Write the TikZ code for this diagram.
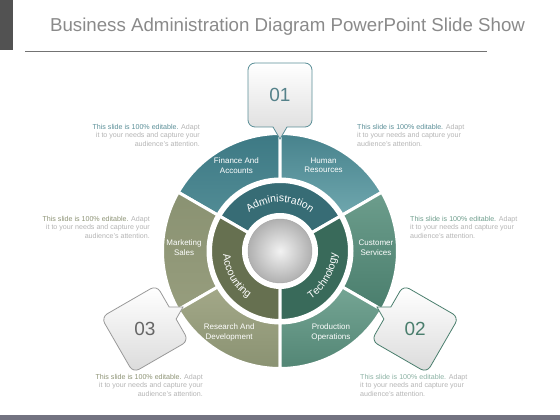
\documentclass[tikz,border=0pt]{standalone}
\usepackage{fontspec}
\setmainfont{Liberation Sans}
\usetikzlibrary{decorations.text}

\definecolor{titlegray}{HTML}{8A8A8A}
\definecolor{notegray}{HTML}{B4B4B4}
\definecolor{tealA}{HTML}{3D7984}
\definecolor{tealB}{HTML}{6FA7AE}
\definecolor{oliveA}{HTML}{8A9272}
\definecolor{oliveB}{HTML}{A3A888}
\definecolor{greenA}{HTML}{75A594}
\definecolor{greenB}{HTML}{4A7E6D}
\definecolor{tealdark}{HTML}{376C75}
\definecolor{olivedark}{HTML}{667050}
\definecolor{greendark}{HTML}{396A5A}
\definecolor{tealtext}{HTML}{5A8E97}
\definecolor{olivetext}{HTML}{8C9274}
\definecolor{greentext}{HTML}{6E9D8C}

% one piece of a ring: start, end, inner, outer, options
\newcommand{\ringpart}[5]{%
  \path[#5] (#1:#3) arc[start angle=#1, end angle=#2, radius=#3]
    -- (#2:#4) arc[start angle=#2, end angle=#1, radius=#4] -- cycle;}

% numbered box with a pointer towards the wheel: angle, rotation, edge, number, text colour
\newcommand{\numbox}[5]{%
  \begin{scope}[shift={(#1:156)}, rotate=#2]
    \path[boxshape, draw=#3]
      (-7,-32) -- (0,-44) -- (7,-32) -- (25,-32) arc[start angle=-90, end angle=0, radius=7]
      -- (32,25) arc[start angle=0, end angle=90, radius=7]
      -- (-25,32) arc[start angle=90, end angle=180, radius=7]
      -- (-32,-25) arc[start angle=180, end angle=270, radius=7] -- cycle;
  \end{scope}
  \node[numtext, text=#5] (box#4) at (#1:156) {#4};}

\newcommand{\editnote}[1]{\textcolor{#1}{This slide is 100\% editable.} Adapt\\
  it to your needs and capture your\\ audience's attention.}
\newcommand{\ringfont}{\fontsize{10.5}{10.5}\selectfont}

\tikzset{
  seg/.style={draw=white, line width=3pt},
  seglabel/.style={text=white, font=\fontsize{8}{9.5}\selectfont, align=center},
  note/.style={font=\fontsize{7.1}{8.5}\selectfont, text=notegray, inner sep=0pt},
  boxshape/.style={line width=0.8pt, top color=white, bottom color=gray!28},
  numtext/.style={font=\fontsize{19}{19}\selectfont}
}

\begin{document}
\begin{tikzpicture}[x=1pt,y=1pt]
    \useasboundingbox (0,0) rectangle (560,420);
    % header
    \fill[black!68] (0,370) rectangle (13,420);
    \draw[black!55, line width=0.7pt] (25,369) -- (487,369);
    \node[anchor=west, text=titlegray, font=\fontsize{18.7}{18.7}\selectfont] (title) at (46.5,393)
        {Business Administration Diagram PowerPoint Slide Show};
    \fill[black!45!blue!10!gray] (0,0) rectangle (560,5);

    \begin{scope}[shift={(280,169)}]
        % outer ring
        \ringpart{90}{150}{72}{117.5}{seg, top color=tealA, bottom color=tealA!60!tealB}
        \ringpart{30}{90}{72}{117.5}{seg, top color=tealA!80!tealB, bottom color=tealB}
        \ringpart{150}{210}{72}{117.5}{seg, top color=oliveA, bottom color=oliveA!50!oliveB}
        \ringpart{210}{270}{72}{117.5}{seg, top color=oliveB, bottom color=oliveA}
        \ringpart{-30}{30}{72}{117.5}{seg, top color=greenA!80!greenB, bottom color=greenB}
        \ringpart{270}{330}{72}{117.5}{seg, top color=greenA, bottom color=greenB!80!greenA}
        % middle ring
        \ringpart{30}{150}{36.5}{69.5}{seg, fill=tealdark}
        \ringpart{150}{270}{36.5}{69.5}{seg, fill=olivedark}
        \ringpart{270}{390}{36.5}{69.5}{seg, fill=greendark}
        % centre
        \path[inner color=gray!10, outer color=gray!62] (0,0) circle[radius=32];
        \draw[gray!70, line width=0.4pt] (0,0) circle[radius=32];
        % curved ring labels
        \path[decorate, decoration={text along path, text align=center, text color=white,
            text={|\ringfont|Administration}}]
            (150:49) arc[start angle=150, end angle=30, radius=49];
        \path[decorate, decoration={text along path, text align=center, text color=white,
            text={|\ringfont|Accounting}}]
            (150:57) arc[start angle=150, end angle=270, radius=57];
        \path[decorate, decoration={text along path, text align=center, text color=white,
            text={|\ringfont|Technology}}]
            (270:57) arc[start angle=270, end angle=390, radius=57];
        % segment labels
        \node[seglabel] (finance)    at (117:96) {Finance And\\Accounts};
        \node[seglabel] (human)      at (63:96)  {Human\\Resources};
        \node[seglabel] (marketing)  at (178:96) {Marketing\\Sales};
        \node[seglabel] (customer)   at (2:96)   {Customer\\Services};
        \node[seglabel] (research)   at (238:96) {Research And\\Development};
        \node[seglabel] (production) at (302:96) {Production\\Operations};
        % numbered boxes
        \numbox{90}{0}{tealtext}{01}{tealdark!85}
        \numbox{330}{-120}{greenB}{02}{greenB}
        \numbox{210}{120}{gray!80}{03}{black!60}
    \end{scope}

    % notes
    \node[note, anchor=north east, align=right] (noteTL) at (200,296) {\editnote{tealtext}};
    \node[note, anchor=north west, align=left]  (noteTR) at (357,296) {\editnote{tealtext}};
    \node[note, anchor=north east, align=right] (noteML) at (150,204) {\editnote{olivetext}};
    \node[note, anchor=north west, align=left]  (noteMR) at (410,204) {\editnote{greentext}};
    \node[note, anchor=north east, align=right] (noteBL) at (203,46)  {\editnote{olivetext}};
    \node[note, anchor=north west, align=left]  (noteBR) at (360,46)  {\editnote{greentext!80}};
\end{tikzpicture}
\end{document}
